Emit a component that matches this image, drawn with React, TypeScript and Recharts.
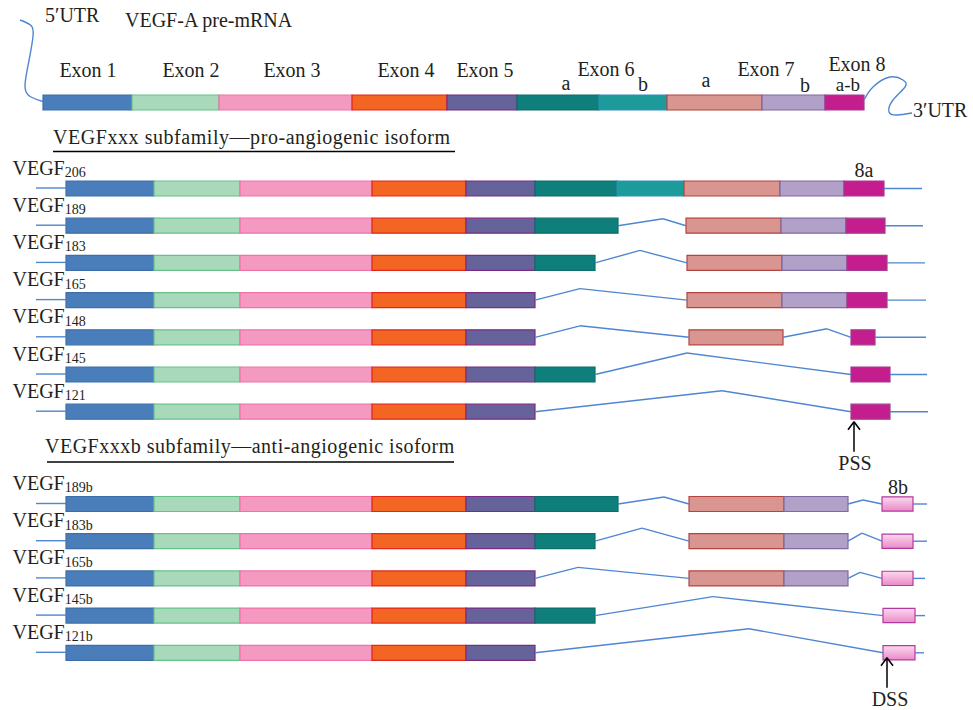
import React from 'react';
import { ComposedChart, XAxis, YAxis, ReferenceArea, ReferenceLine, Scatter, Line } from 'recharts';

// ---------- layout constants ----------
const W = 973;
const H = 710;
const ROW_PX = 37.2; // pixels per track
const PRE_CENTER_PX = 102.5;
const Y_MIN = -PRE_CENTER_PX / ROW_PX;
const Y_MAX = (H - PRE_CENTER_PX) / ROW_PX;
const px = (d: number) => d / ROW_PX;
const HALF = px(7.5);

const PRE_ROW = 0;
const PRO_START = 2.312;
const ANTI_START = 10.793;

// ---------- data ----------
// pre-mRNA exon boundaries (diagram units)
const preExonKeys = ['1', '2', '3', '4', '5', '6a', '6b', '7a', '7b', '8'];
const preBounds = [43, 132, 219, 352, 447, 517, 599, 667, 762, 825, 864];

const exonLabels = [
  { x: 88, text: 'Exon 1', dy: -25.5 },
  { x: 191, text: 'Exon 2', dy: -25.5 },
  { x: 292, text: 'Exon 3', dy: -25.5 },
  { x: 406, text: 'Exon 4', dy: -25.5 },
  { x: 485, text: 'Exon 5', dy: -25.5 },
  { x: 606, text: 'Exon 6', dy: -26.5 },
  { x: 766, text: 'Exon 7', dy: -26.5 },
  { x: 857, text: 'Exon 8', dy: -31.5 },
  { x: 566, text: 'a', dy: -12.5 },
  { x: 643, text: 'b', dy: -12 },
  { x: 706, text: 'a', dy: -15.5 },
  { x: 805, text: 'b', dy: -11 },
  { x: 848, text: 'a-b', dy: -11.5, size: 19 },
];

const commonExons: [string, number, number][] = [
  ['1', 66, 154], ['2', 154, 240], ['3', 240, 372], ['4', 372, 466], ['5', 466, 535],
];

type Iso = {
  sub: string;
  exons: [string, number, number][];
  introns: [number, number, number, number][]; // start, peak x, end, peak rise (px)
  tailEnd: number;
};

const proIsoforms: Iso[] = [
  { sub: '206', exons: [['6a', 535, 617], ['6b', 617, 684], ['7a', 684, 780], ['7b', 780, 844], ['8', 844, 884]], introns: [], tailEnd: 922 },
  { sub: '189', exons: [['6a', 535, 618], ['7a', 686, 781], ['7b', 781, 846], ['8', 846, 885]], introns: [[618, 663, 686, -7]], tailEnd: 923 },
  { sub: '183', exons: [['6a', 535, 595], ['7a', 687, 782], ['7b', 782, 847], ['8', 847, 887]], introns: [[595, 640, 687, -12.5]], tailEnd: 925 },
  { sub: '165', exons: [['7a', 687, 782], ['7b', 782, 847], ['8', 847, 887]], introns: [[535, 580, 687, -11.5]], tailEnd: 926 },
  { sub: '148', exons: [['7a', 689, 783], ['8', 851, 875]], introns: [[535, 580, 689, -11.5], [783, 827, 851, -8.5]], tailEnd: 926 },
  { sub: '145', exons: [['6a', 535, 595], ['8', 851, 890]], introns: [[595, 687, 851, -21.5]], tailEnd: 927 },
  { sub: '121', exons: [['8', 851, 890]], introns: [[535, 722, 851, -21]], tailEnd: 928 },
];

const antiIsoforms: Iso[] = [
  { sub: '189b', exons: [['6a', 535, 618], ['7a', 689, 784], ['7b', 784, 848], ['8b', 882, 913]], introns: [[618, 664, 689, -7], [848, 863, 882, -4]], tailEnd: 927 },
  { sub: '183b', exons: [['6a', 535, 595], ['7a', 689, 784], ['7b', 784, 848], ['8b', 882, 913]], introns: [[595, 642, 689, -13], [848, 862, 882, -8]], tailEnd: 927 },
  { sub: '165b', exons: [['7a', 689, 784], ['7b', 784, 848], ['8b', 882, 913]], introns: [[535, 578, 689, -11], [848, 860, 882, -6]], tailEnd: 925 },
  { sub: '145b', exons: [['6a', 535, 595], ['8b', 883, 915]], introns: [[595, 713, 883, -19]], tailEnd: 925 },
  { sub: '121b', exons: [['8b', 883, 915]], introns: [[535, 749, 883, -24]], tailEnd: 924 },
];

const LEFT_TAIL: [number, number] = [36, 66];

// UTR curves (x, rise in px relative to pre-mRNA track)
const utr5 = [[20, -82.5], [31, -77], [33, -66], [29, -42], [25, -17], [30, -6], [43, -1]];
const utr3 = [[864, -2.5], [873, -15.5], [890, -25.5], [903, -22.5], [905, -15.5], [893, -2.5], [889, 9.5], [897, 12.5], [912, 10.5]];

// ---------- styles ----------
const EXON_STYLE: Record<string, { fill: string; stroke: string }> = {
  '1': { fill: '#4a7ebb', stroke: '#3d6ea8' },
  '2': { fill: '#a9d9bb', stroke: '#66c288' },
  '3': { fill: '#f49ac1', stroke: '#ef72a8' },
  '4': { fill: '#f36523', stroke: '#e3261b' },
  '5': { fill: '#66639a', stroke: '#7a2b85' },
  '6a': { fill: '#0e7f7a', stroke: '#0b6f6b' },
  '6b': { fill: '#1d9b9b', stroke: '#2f8fbf' },
  '7a': { fill: '#d9958f', stroke: '#b3443f' },
  '7b': { fill: '#b1a0c8', stroke: '#7f6a9f' },
  '8': { fill: '#c41e8e', stroke: '#a5398f' },
  '8b': { fill: 'url(#grad8b)', stroke: '#b5399f' },
};
const INTRON = '#4f86d1';
const INK = '#231f20';
const FONT = '"Liberation Serif", "Times New Roman", serif';

// ---------- build marks ----------
type LabelPt = { x: number; y: number; text: string; sub?: string; anchor?: string; size?: number; spacing?: number };

const labels: LabelPt[] = [];
const rects: { key: string; x1: number; x2: number; y1: number; y2: number; exon: string }[] = [];
const segs: { key: string; a: { x: number; y: number }; b: { x: number; y: number }; color: string; w: number }[] = [];

const addSeg = (key: string, x1: number, y1: number, x2: number, y2: number, color = INTRON, w = 1.4) =>
  segs.push({ key, a: { x: x1, y: y1 }, b: { x: x2, y: y2 }, color, w });

// pre-mRNA
preExonKeys.forEach((k, i) => {
  rects.push({ key: 'pre' + k, x1: preBounds[i], x2: preBounds[i + 1], y1: PRE_ROW - HALF, y2: PRE_ROW + HALF, exon: k });
});
exonLabels.forEach((l) =>
  labels.push({ x: l.x, y: PRE_ROW + px(l.dy), text: l.text, anchor: 'middle', size: (l as any).size })
);
labels.push({ x: 45, y: PRE_ROW + px(-80.5), text: '5′UTR', anchor: 'start' });
labels.push({ x: 125, y: PRE_ROW + px(-75.5), text: 'VEGF-A pre-mRNA', anchor: 'start' });
labels.push({ x: 913, y: PRE_ROW + px(14.5), text: '3′UTR', anchor: 'start' });

const utr5Data = utr5.map(([x, d]) => ({ x, y: PRE_ROW + px(d) }));
const utr3Data = utr3.map(([x, d]) => ({ x, y: PRE_ROW + px(d) }));

const buildGroup = (isos: Iso[], start: number, prefix: string) => {
  isos.forEach((iso, i) => {
    const r = start + i;
    const all = [...commonExons, ...iso.exons];
    all.forEach(([k, a, b], j) => {
      const h = k === '8b' ? HALF * 0.95 : HALF;
      rects.push({ key: `${prefix}${i}-${j}`, x1: a, x2: b, y1: r - h, y2: r + h, exon: k });
    });
    iso.introns.forEach(([a, p, b, rise], j) => {
      addSeg(`${prefix}${i}-in${j}a`, a, r, p, r + px(rise));
      addSeg(`${prefix}${i}-in${j}b`, p, r + px(rise), b, r);
    });
    addSeg(`${prefix}${i}-tl`, LEFT_TAIL[0], r - px(0.5), LEFT_TAIL[1], r - px(0.5));
    const last = all[all.length - 1][2];
    addSeg(`${prefix}${i}-tr`, last, r, iso.tailEnd, r);
    labels.push({ x: 12.5, y: r + px(-14), text: 'VEGF', sub: iso.sub, anchor: 'start' });
  });
};
buildGroup(proIsoforms, PRO_START, 'p');
buildGroup(antiIsoforms, ANTI_START, 'b');

// section titles
const PRO_LAST = PRO_START + proIsoforms.length - 1;
const ANTI_LAST = ANTI_START + antiIsoforms.length - 1;
labels.push({ x: 53, y: PRO_START + px(-44.5), text: 'VEGFxxx subfamily—pro-angiogenic isoform', anchor: 'start', spacing: 0.55 });
addSeg('ulA', 53, PRO_START + px(-37), 455, PRO_START + px(-37), '#000', 1.5);
labels.push({ x: 45, y: ANTI_START + px(-51), text: 'VEGFxxxb subfamily—anti-angiogenic isoform', anchor: 'start', spacing: 0.5 });
addSeg('ulB', 47, ANTI_START + px(-42), 454, ANTI_START + px(-42), '#000', 1.5);

// exon 8 annotations
labels.push({ x: 864, y: PRO_START + px(-11.5), text: '8a', anchor: 'middle' });
labels.push({ x: 898, y: ANTI_START + px(-10), text: '8b', anchor: 'middle' });

// arrows
const arrow = (key: string, x: number, r: number, tip: number, base: number) => {
  addSeg(key + 's', x, r + px(tip), x, r + px(base), '#000', 1.5);
  addSeg(key + 'l', x, r + px(tip), x - 6, r + px(tip + 8), '#000', 1.5);
  addSeg(key + 'r', x, r + px(tip), x + 6, r + px(tip + 8), '#000', 1.5);
};
arrow('pss', 854, PRO_LAST, 10, 40);
labels.push({ x: 855, y: PRO_LAST + px(58), text: 'PSS', anchor: 'middle' });
arrow('dss', 887, ANTI_LAST, 5, 35);
labels.push({ x: 890, y: ANTI_LAST + px(53), text: 'DSS', anchor: 'middle' });

const renderLabel = (p: any) => {
  const d: LabelPt = p.payload;
  return (
    <text
      x={p.cx}
      y={p.cy}
      textAnchor={d.anchor || 'start'}
      fontFamily={FONT}
      fontSize={d.size || 20}
      fill={INK}
      letterSpacing={d.spacing || 0}
    >
      {d.text}
      {d.sub ? (
        <tspan fontSize={14} dy={2.5}>
          {d.sub}
        </tspan>
      ) : null}
    </text>
  );
};

export default function App() {
  return (
    <div style={{ position: 'absolute', left: 0, top: 0, width: W, height: H, background: '#fff' }}>
      <ComposedChart width={W} height={H} margin={{ top: 0, right: 0, bottom: 0, left: 0 }}>
        <defs>
          <linearGradient id="grad8b" x1="0" y1="0" x2="0" y2="1">
            <stop offset="0%" stopColor="#fcd9ec" />
            <stop offset="100%" stopColor="#e98ac9" />
          </linearGradient>
        </defs>
        <XAxis type="number" dataKey="x" domain={[0, W]} hide allowDataOverflow />
        <YAxis type="number" dataKey="y" domain={[Y_MIN, Y_MAX]} reversed hide allowDataOverflow />
        {rects.map((r) => (
          <ReferenceArea
            key={r.key}
            x1={r.x1}
            x2={r.x2}
            y1={r.y1}
            y2={r.y2}
            fill={EXON_STYLE[r.exon].fill}
            fillOpacity={1}
            stroke={EXON_STYLE[r.exon].stroke}
            strokeWidth={1.2}
            ifOverflow="visible"
          />
        ))}
        {segs.map((s) => (
          <ReferenceLine key={s.key} segment={[s.a, s.b]} stroke={s.color} strokeWidth={s.w} ifOverflow="visible" />
        ))}
        <Line data={utr5Data} dataKey="y" type="natural" stroke={INTRON} strokeWidth={1.4} dot={false} isAnimationActive={false} />
        <Line data={utr3Data} dataKey="y" type="natural" stroke={INTRON} strokeWidth={1.4} dot={false} isAnimationActive={false} />
        <Scatter data={labels} dataKey="y" shape={renderLabel} isAnimationActive={false} />
      </ComposedChart>
    </div>
  );
}
